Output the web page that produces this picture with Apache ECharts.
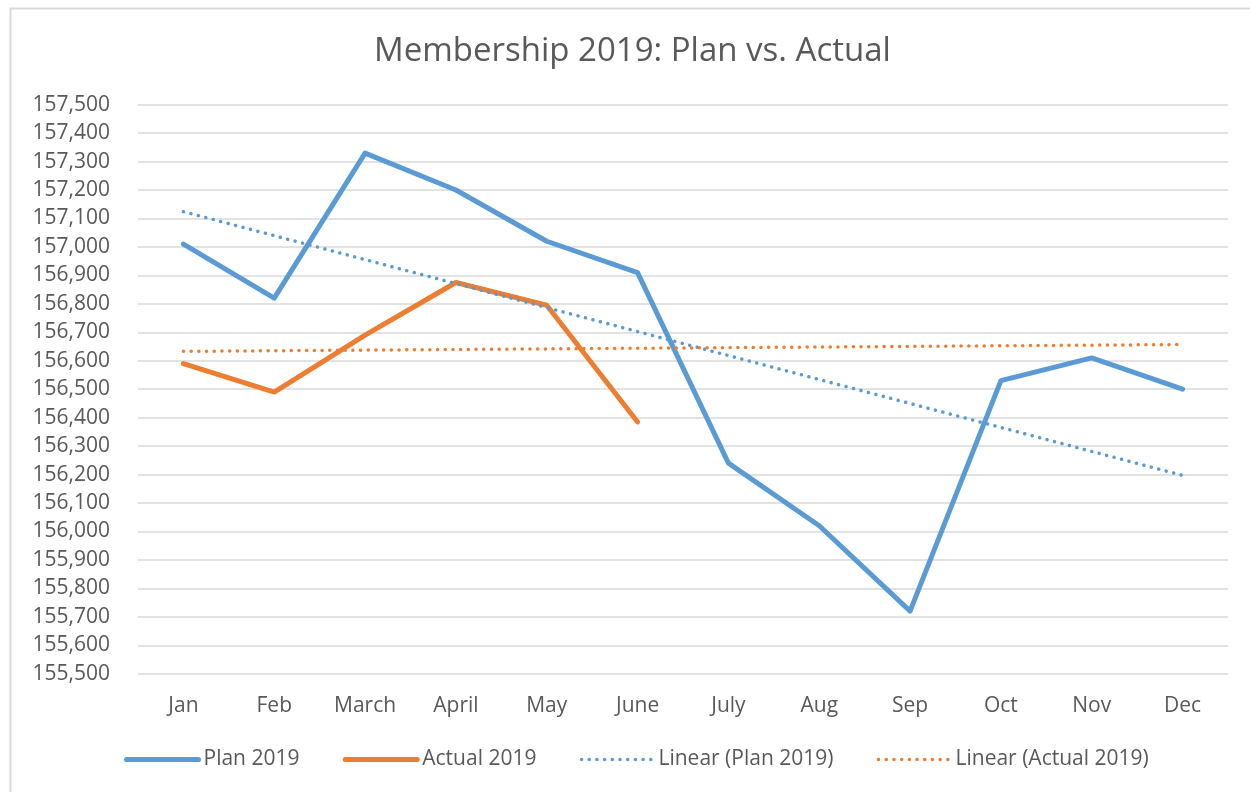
<!DOCTYPE html>
<html>
<head>
<meta charset="utf-8">
<script src="https://cdn.jsdelivr.net/npm/echarts@6/dist/echarts.min.js"></script>
<style>
html,body{margin:0;padding:0;background:#fff;}
#chart{width:1250px;height:792px;}
</style>
</head>
<body>
<div id="chart"></div>
<script>
const months = ['Jan','Feb','March','April','May','June','July','Aug','Sep','Oct','Nov','Dec'];
const plan2019 = [157010, 156820, 157330, 157200, 157020, 156910, 156240, 156020, 155720, 156530, 156610, 156500];
const actual2019 = [156590, 156490, 156690, 156875, 156795, 156385];
// trendline endpoints (Jan and Dec)
const planTrendEnds = [['Jan', 157124], ['Dec', 156197]];
const actualTrendEnds = [['Jan', 156633], ['Dec', 156657]];

const FONT = '"Open Sans", sans-serif';
const TXT = '#595959';
const BLUE = '#5B9BD5';
const ORANGE = '#ED7D31';
const DOT = [0.1, 7.6];

const chart = echarts.init(document.getElementById('chart'), null, {renderer: 'canvas'});
chart.setOption({
  animation: false,
  backgroundColor: '#fff',
  title: {
    text: 'Membership 2019: Plan vs. Actual',
    left: 369,
    top: 30,
    textStyle: {fontFamily: FONT, fontSize: 33, fontWeight: 'normal', color: TXT}
  },
  graphic: [{
    type: 'rect', left: 8, top: 6, z: -1,
    shape: {width: 1300, height: 850},
    style: {fill: 'none', stroke: '#D9D9D9', lineWidth: 2}
  }],
  legend: {
    left: 119, top: 744,
    itemWidth: 72, itemHeight: 12, itemGap: 43.3,
    itemStyle: {opacity: 0},
    textStyle: {fontFamily: FONT, fontSize: 21, color: TXT},
    data: [
      {name: 'Plan 2019', lineStyle: {width: 5, cap: 'round'}},
      {name: 'Actual 2019', lineStyle: {width: 5, cap: 'round'}},
      {name: 'Linear (Plan 2019)', lineStyle: {width: 3.5, type: DOT, cap: 'round'}},
      {name: 'Linear (Actual 2019)', lineStyle: {width: 3.5, type: DOT, cap: 'round'}}
    ]
  },
  grid: {left: 138, right: 22, top: 104.7, bottom: 118.3, containLabel: false},
  xAxis: {
    type: 'category', data: months, boundaryGap: true,
    axisLine: {show: false}, axisTick: {show: false},
    axisLabel: {fontFamily: FONT, fontSize: 21, color: TXT, margin: 22}
  },
  yAxis: {
    type: 'value', min: 155500, max: 157500, interval: 100,
    axisLine: {show: false}, axisTick: {show: false},
    splitLine: {lineStyle: {color: '#D9D9D9', width: 1.5}},
    axisLabel: {
      fontFamily: FONT, fontSize: 21, color: TXT, margin: 28,
      formatter: v => v.toLocaleString('en-US')
    }
  },
  series: [
    {
      name: 'Plan 2019', type: 'line', data: plan2019, symbol: 'none',
      lineStyle: {color: BLUE, width: 5, join: 'round', cap: 'round'},
      itemStyle: {color: BLUE}, z: 3
    },
    {
      name: 'Actual 2019', type: 'line', data: actual2019, symbol: 'none',
      lineStyle: {color: ORANGE, width: 5, join: 'round', cap: 'round'},
      itemStyle: {color: ORANGE}, z: 4
    },
    {
      name: 'Linear (Plan 2019)', type: 'line', data: planTrendEnds, symbol: 'none',
      lineStyle: {color: BLUE, width: 3.5, type: DOT, cap: 'round'},
      itemStyle: {color: BLUE}, z: 5
    },
    {
      name: 'Linear (Actual 2019)', type: 'line', data: actualTrendEnds, symbol: 'none',
      lineStyle: {color: ORANGE, width: 3.5, type: DOT, cap: 'round'},
      itemStyle: {color: ORANGE}, z: 5
    }
  ]
});
</script>
</body>
</html>
